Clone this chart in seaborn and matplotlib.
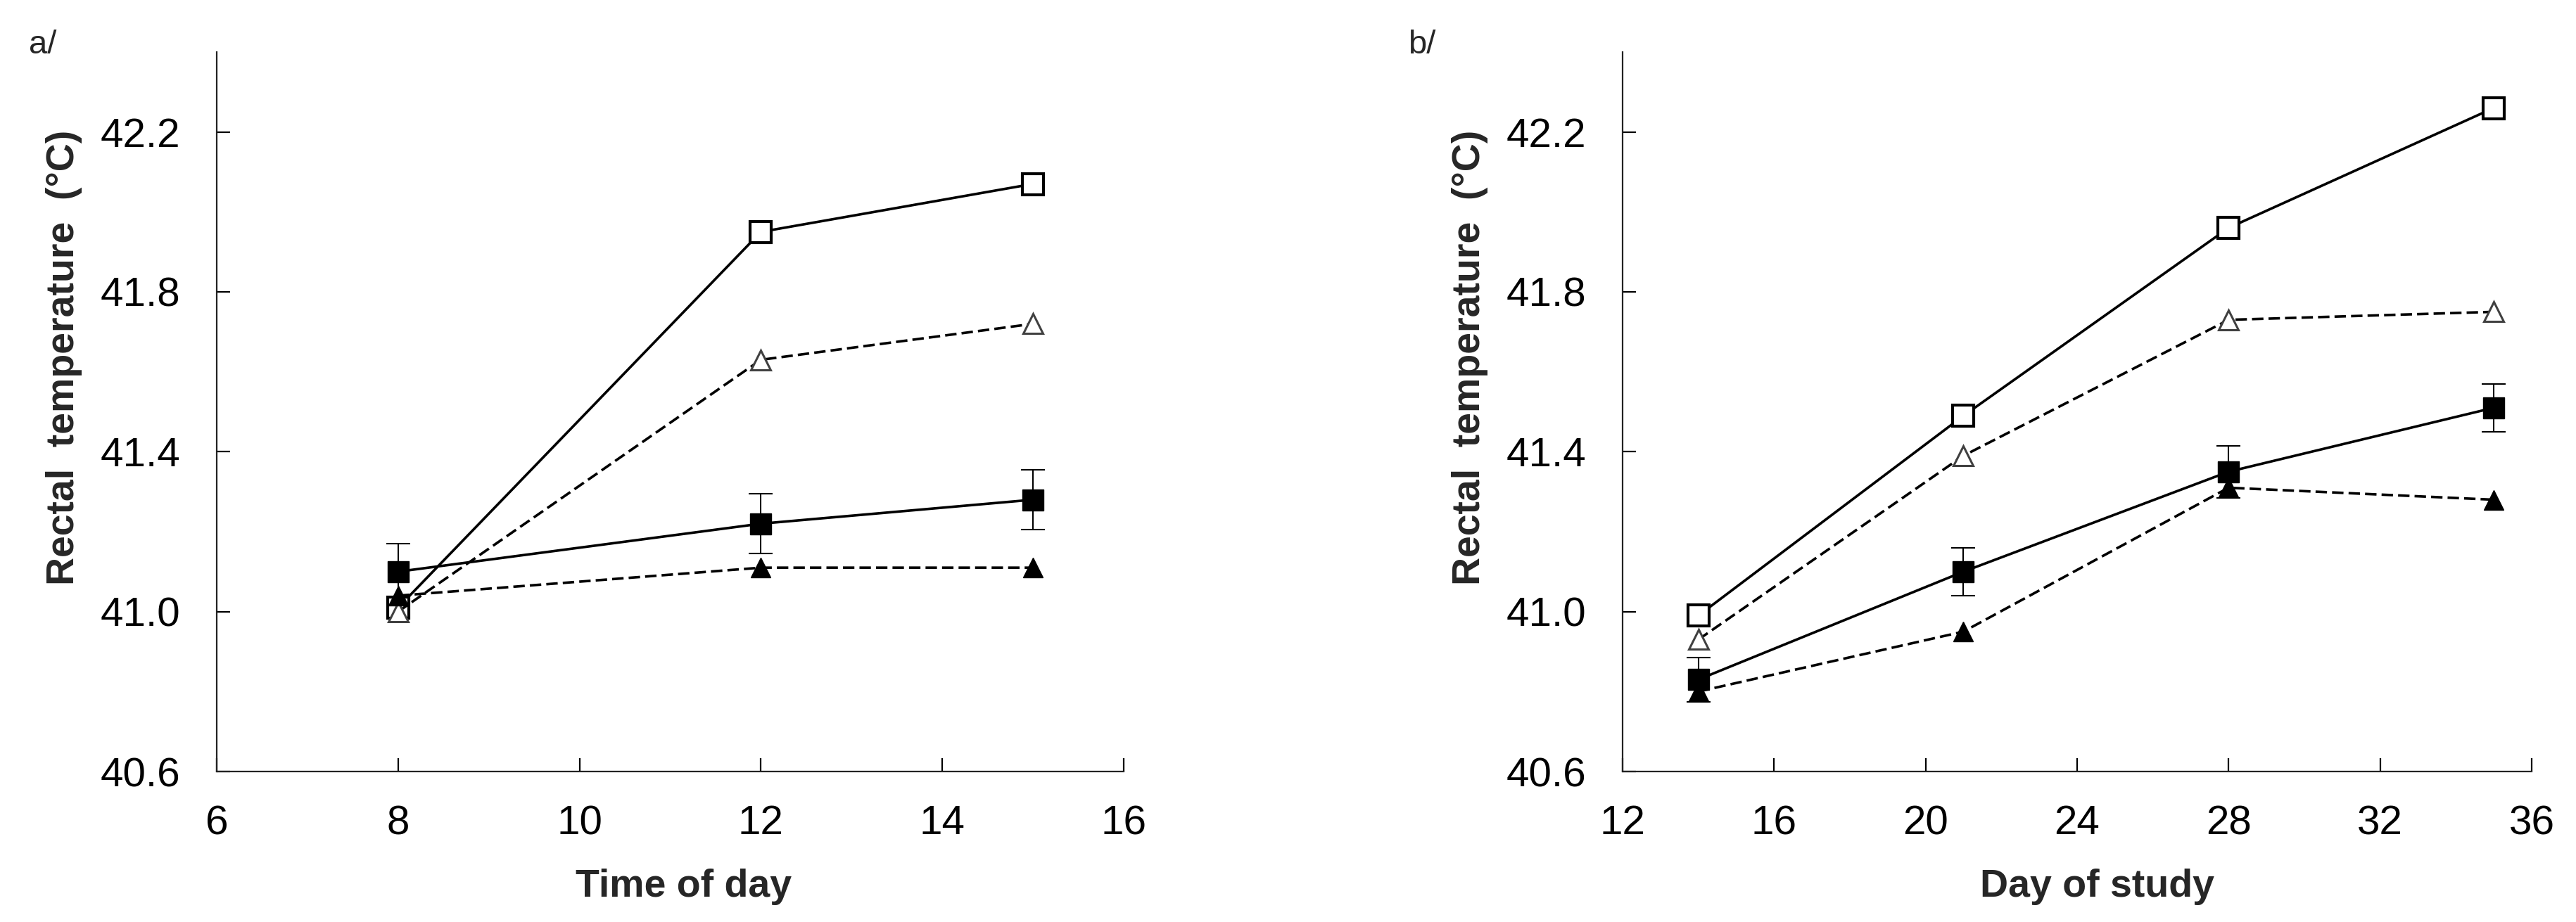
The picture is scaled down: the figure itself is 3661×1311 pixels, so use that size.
import numpy as np
import pandas as pd
import seaborn as sns
import matplotlib.pyplot as plt

# Panel a: time of day
time_of_day = [8, 12, 15]
a_open_sq = [41.01, 41.95, 42.07]
a_open_tri = [41.00, 41.63, 41.72]
a_fill_sq = [41.10, 41.22, 41.28]
a_fill_sq_err = [0.07, 0.075, 0.075]
a_fill_tri = [41.04, 41.11, 41.11]

# Panel b: day of study
study_day = [14, 21, 28, 35]
b_open_sq = [40.99, 41.49, 41.96, 42.26]
b_open_tri = [40.93, 41.39, 41.73, 41.75]
b_fill_sq = [40.83, 41.10, 41.35, 41.51]
b_fill_sq_err = [0.055, 0.06, 0.065, 0.06]
b_fill_tri = [40.80, 40.95, 41.31, 41.28]

y_ticks = [40.6, 41.0, 41.4, 41.8, 42.2]

sns.set_style('ticks')
plt.rcParams['font.family'] = ['Liberation Sans', 'DejaVu Sans']

fig = plt.figure(figsize=(36.62, 13.11), dpi=100)
ax_a = fig.add_axes([0.0841, 0.1632, 0.352, 0.7804])
ax_b = fig.add_axes([0.6297, 0.1632, 0.3528, 0.7804])

LW = 2.6
DASH = (4.5, 2.0)


def draw_panel(ax, x, open_sq, open_tri, fill_sq, fill_sq_err, fill_tri):
    sns.lineplot(x=x, y=open_sq, ax=ax, color='black', linewidth=LW,
                 marker='s', markersize=22, markerfacecolor='white',
                 markeredgecolor='black', markeredgewidth=3, zorder=3)
    sns.lineplot(x=x, y=open_tri, ax=ax, color='black', linewidth=LW,
                 dashes=DASH, marker='^', markersize=20, markerfacecolor='white',
                 markeredgecolor='#404040', markeredgewidth=2.2, zorder=3)
    ax.errorbar(x, fill_sq, yerr=fill_sq_err, fmt='none', ecolor='black',
                elinewidth=1.5, capsize=12, capthick=1.5, zorder=2)
    sns.lineplot(x=x, y=fill_sq, ax=ax, color='black', linewidth=LW,
                 marker='s', markersize=22, markerfacecolor='black',
                 markeredgecolor='black', markeredgewidth=1, zorder=4)
    sns.lineplot(x=x, y=fill_tri, ax=ax, color='black', linewidth=LW,
                 dashes=DASH, marker='^', markersize=20, markerfacecolor='black',
                 markeredgecolor='black', markeredgewidth=1, zorder=4)


draw_panel(ax_a, time_of_day, a_open_sq, a_open_tri, a_fill_sq, a_fill_sq_err, a_fill_tri)
draw_panel(ax_b, study_day, b_open_sq, b_open_tri, b_fill_sq, b_fill_sq_err, b_fill_tri)

ax_a.set_xlim(6, 16)
ax_a.set_xticks(np.arange(6, 17, 2))
ax_b.set_xlim(12, 36)
ax_b.set_xticks(np.arange(12, 37, 4))

for ax, xlabel, xlab_pos in [(ax_a, 'Time of day', 0.515), (ax_b, 'Day of study', 0.522)]:
    ax.set_ylim(40.6, 42.4)
    ax.set_yticks(y_ticks)
    ax.set_yticklabels([f'{v:.1f}' for v in y_ticks])
    sns.despine(ax=ax)
    for side in ['left', 'bottom']:
        ax.spines[side].set_linewidth(1.6)
        ax.spines[side].set_color('#222222')
    ax.tick_params(axis='both', direction='in', length=14, width=1.6,
                   labelsize=42, colors='black')
    ax.tick_params(axis='y', pad=37)
    ax.tick_params(axis='x', pad=34)
    ax.set_xlabel(xlabel, fontsize=40, fontweight='bold')
    ax.set_ylabel('Rectal  temperature  (°C)', fontsize=40, fontweight='bold')
    ax.xaxis.set_label_coords(xlab_pos, -0.135)
    ax.yaxis.set_label_coords(-0.148, 0.575)
    ax.grid(False)

fig.text(0.0112, 0.942, 'a/', fontsize=34)
fig.text(0.5465, 0.942, 'b/', fontsize=34)

plt.savefig('out.png', dpi=100)
plt.close()
